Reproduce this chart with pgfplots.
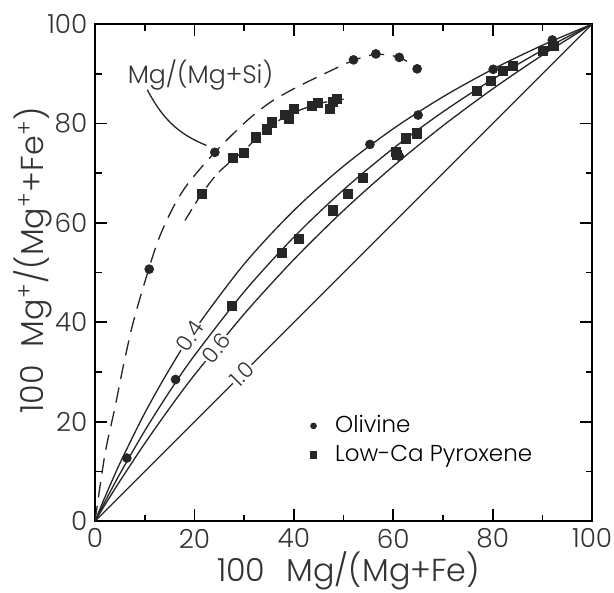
\documentclass[border=0pt]{standalone}
\usepackage{fontspec}
\setmainfont{Poppins}[UprightFont=* Light]
\usepackage{pgfplots}
\pgfplotsset{compat=1.18}

\pgfplotstableread{
x y
6.4 12.7
10.9 50.7
16.2 28.5
24.1 74.2
52.0 92.8
56.5 94.0
61.2 93.3
64.8 91.0
55.3 75.8
65.0 81.7
61.2 73.4
80.1 90.9
92.0 96.8
}\olivine

\pgfplotstableread{
x y
21.5 65.9
27.8 73.0
30.0 74.0
32.4 77.2
34.6 78.8
35.6 80.2
38.2 81.7
39.0 81.0
40.0 83.0
43.7 83.5
44.9 84.1
47.3 83.0
47.9 84.3
48.7 85.0
27.6 43.3
37.6 54.0
41.0 56.7
47.9 62.5
50.9 65.9
53.9 69.0
60.6 74.2
60.8 73.6
62.6 77.0
64.8 78.0
76.9 86.5
79.7 88.5
82.1 90.5
84.1 91.5
90.1 94.6
92.2 95.6
}\pyroxene

\pgfplotsset{
  olvleg/.style={legend image code/.code={%
    \draw[black!85, only marks, mark=*, mark size=1.3pt] plot coordinates {(0.15cm,0cm)};
    \path (0cm,0cm) (0.42cm,0cm);}},
  pxleg/.style={legend image code/.code={%
    \draw[black!85, only marks, mark=square*, mark size=1.5pt] plot coordinates {(0.15cm,0cm)};
    \path (0cm,0cm) (0.42cm,0cm);}},
}

\begin{document}
\begin{tikzpicture}
\begin{axis}[
    name=main,
    scale only axis,
    width=227pt, height=227pt,
    xmin=0, xmax=100, ymin=0, ymax=100,
    xtick={0,20,...,100}, ytick={0,20,...,100},
    minor tick num=1,
    tick align=inside,
    major tick length=5.5pt, minor tick length=3pt,
    every tick/.style={black, line width=0.8pt},
    axis line style={line width=1.2pt},
    ticklabel style={font=\fontsize{12}{14}\selectfont, text=black!80},
    /pgf/number format/assume math mode=true,
    xlabel={100\hspace{0.4em} Mg/(Mg+Fe)},
    ylabel={100\hspace{0.3em} Mg\textsuperscript{+}/(Mg\textsuperscript{+}+Fe\textsuperscript{+})},
    every axis x label/.style={at={(axis description cs:0.51,-0.10)}, anchor=center},
    every axis y label/.style={at={(axis description cs:-0.125,0.525)}, anchor=center, rotate=90},
    label style={font=\fontsize{14.5}{16}\selectfont, text=black!80},
    legend style={draw=none, fill=none, at={(0.419,0.222)}, anchor=north west,
        font=\fontsize{10.5}{12}\selectfont, row sep=0pt, inner sep=0pt,
        cells={anchor=west}},
]
% distribution curves, K = 0.4, 0.5, 0.6, 1.0
\addplot[black!85, line width=0.6pt, smooth, forget plot] coordinates {
 (0,0) (1,2.46) (2,4.85) (5,11.63) (10,21.74) (15,30.61) (20,38.46) (30,51.72)
 (40,62.5) (50,71.43) (60,78.95) (70,85.37) (80,90.91) (90,95.74) (100,100)};
\addplot[black!85, line width=0.6pt, smooth, forget plot] coordinates {
 (0,0) (1,1.98) (2,3.92) (5,9.52) (10,18.18) (15,26.09) (20,33.33) (30,46.15)
 (40,57.14) (50,66.67) (60,75) (70,82.35) (80,88.89) (90,94.74) (100,100)};
\addplot[black!85, line width=0.6pt, smooth, forget plot] coordinates {
 (0,0) (1,1.66) (2,3.29) (5,8.06) (10,15.63) (15,22.73) (20,29.41) (30,41.67)
 (40,52.63) (50,62.5) (60,71.43) (70,79.55) (80,86.96) (90,93.75) (100,100)};
\addplot[black!85, line width=0.6pt, forget plot] coordinates {(0,0) (100,100)};

% dashed trends
\addplot[black!85, line width=0.6pt, smooth, dash pattern=on 7pt off 4pt, forget plot] coordinates {
 (0,0) (2,13.5) (4,22.8) (5.6,30.8) (7.6,39.7) (10.1,48.4) (12.7,56.5) (15.7,63.1)
 (18.7,67.9) (24.1,74.2) (30.6,80.6) (35.6,84.5) (40.6,87.3) (45.9,89.9) (52,92.7)
 (56.5,93.9) (61.2,93.3) (65,91)};
\addplot[black!85, line width=0.6pt, smooth, dash pattern=on 6pt off 3pt, forget plot] coordinates {
 (18.1,60.5) (19.7,63.1) (21.5,65.9) (24.5,69.8) (27.8,72.8) (30,74.5) (32.4,77)
 (35,79.3) (38.5,81.5) (42,83) (45,84) (48,84.6) (50,84.9)};

% data
\addplot[only marks, mark=*, mark size=2pt, black!85, forget plot] table {\olivine};
\addplot[only marks, mark=square*, mark size=2.1pt, black!85, forget plot] table {\pyroxene};

\addlegendimage{olvleg}
\addlegendentry{Olivine}
\addlegendimage{pxleg}
\addlegendentry{Low-Ca Pyroxene}

% curve labels
\node[fill=white, inner sep=0.5pt, rotate=56, font=\fontsize{10}{11}\selectfont, text=black!80] at (axis cs:19.1,37.2) {0.4};
\node[fill=white, inner sep=0.5pt, rotate=51, font=\fontsize{10}{11}\selectfont, text=black!80] at (axis cs:24.4,34.8) {0.6};
\node[fill=white, inner sep=0.5pt, rotate=45, font=\fontsize{10}{11}\selectfont, text=black!80] at (axis cs:29.6,29.6) {1.0};

\node[font=\fontsize{11.5}{13}\selectfont, text=black!80] at (axis cs:21.2,89.8) {Mg/(Mg+Si)};
\draw[black!85, line width=0.6pt] (axis cs:10.5,86.8) to[out=-62, in=158] (axis cs:22.4,75.6);
\end{axis}
\pgfresetboundingbox
\path ([shift={(-43.4pt,-32.4pt)}]main.south west) rectangle ([shift={(10pt,11pt)}]main.north east);
\end{tikzpicture}
\end{document}
